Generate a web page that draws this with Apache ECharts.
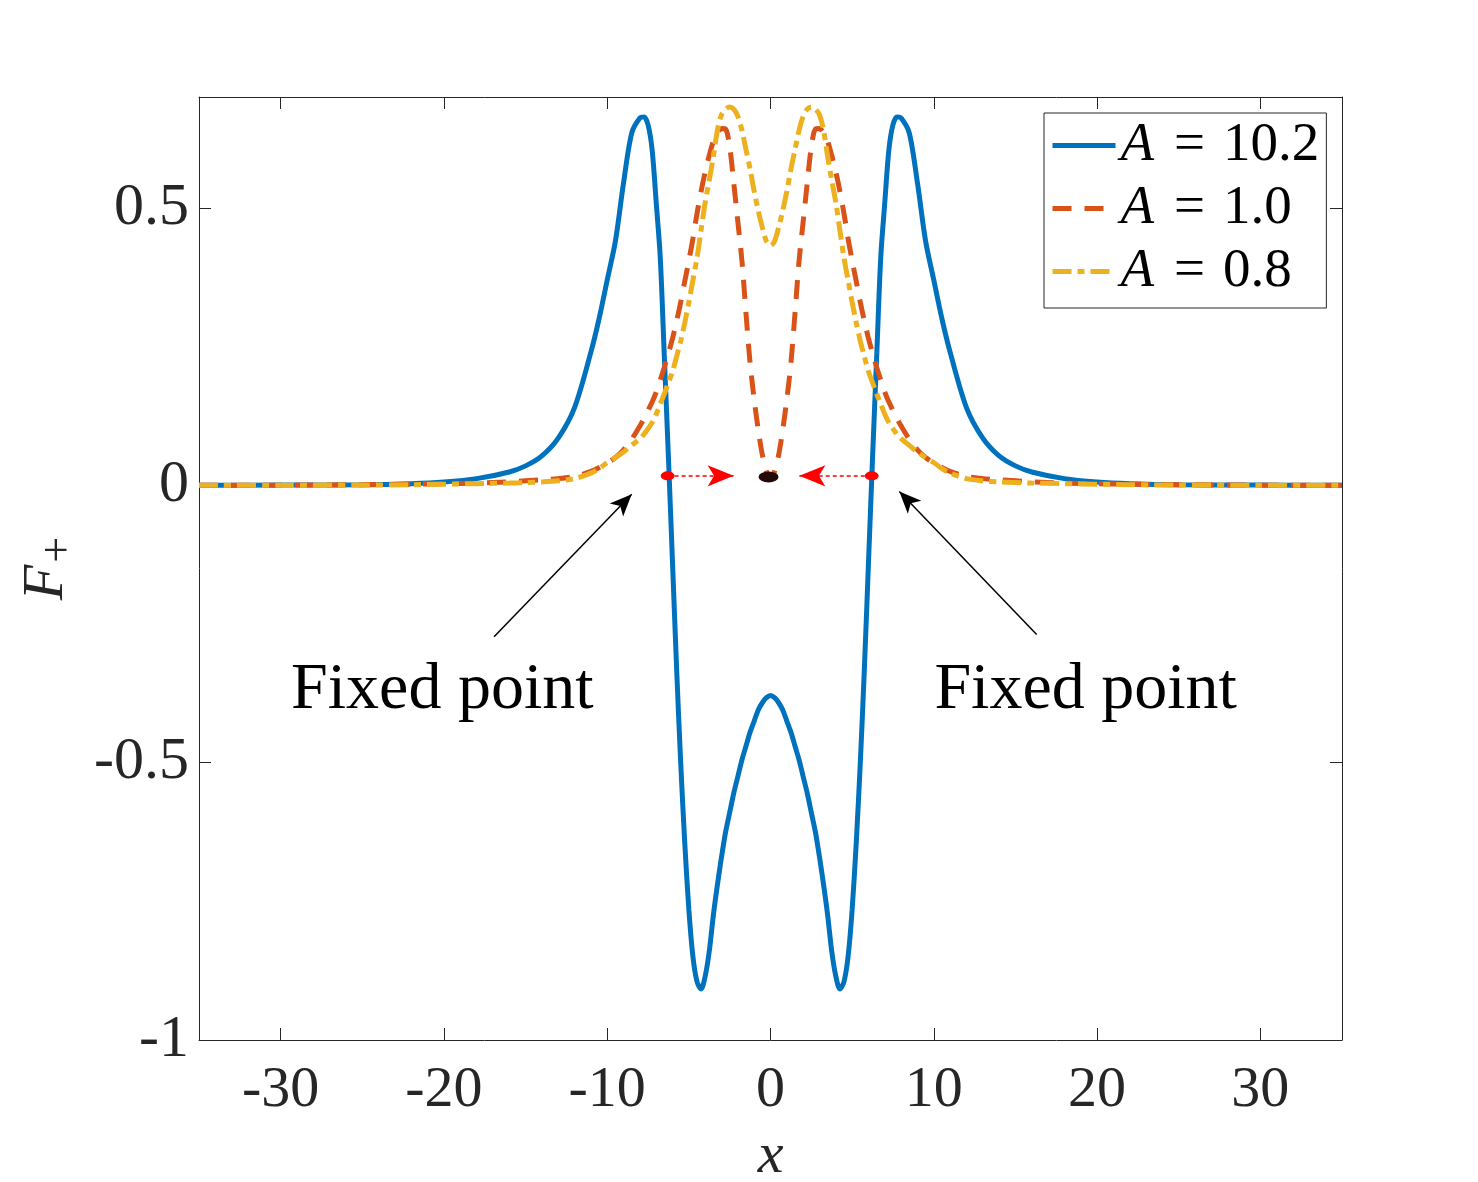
<!DOCTYPE html>
<html>
<head>
<meta charset="utf-8">
<script src="https://cdn.jsdelivr.net/npm/echarts/dist/echarts.min.js"></script>
<style>
  html, body { margin: 0; padding: 0; background: #fff; }
  #chart { width: 1478px; height: 1182px; }
</style>
</head>
<body>
<div id="chart"></div>
<script>
// x samples shared by the three curves
const xs = [-35, -30, -25, -22, -20, -18, -16, -15, -14, -13, -12, -11, -10.5, -10, -9.5, -9, -8.5, -8, -7.75, -7.5,
  -7.25, -7, -6.75, -6.5, -6.25, -6, -5.75, -5.5, -5.25, -5, -4.75, -4.5, -4.25, -4, -3.75, -3.5, -3.25, -3, -2.75, -2.5,
  -2.25, -2, -1.75, -1.5, -1.25, -1, -0.75, -0.5, -0.25, 0,
  0.25, 0.5, 0.75, 1, 1.25, 1.5, 1.75, 2, 2.25, 2.5, 2.75, 3, 3.25, 3.5, 3.75, 4, 4.25, 4.5, 4.75, 5,
  5.25, 5.5, 5.75, 6, 6.25, 6.5, 6.75, 7, 7.25, 7.5, 7.75, 8, 8.5, 9, 9.5, 10, 10.5, 11, 12, 13,
  14, 15, 16, 18, 20, 22, 25, 30, 35];

// A = 10.2
const fBlue = [0, 0.0005, 0.001, 0.003, 0.006, 0.012, 0.024, 0.035, 0.053, 0.085, 0.14, 0.24, 0.3, 0.37, 0.44, 0.545, 0.635, 0.662, 0.664, 0.65,
  0.605, 0.51, 0.41, 0.23, 0.05, -0.14, -0.33, -0.5, -0.645, -0.765, -0.85, -0.895, -0.908, -0.885, -0.84, -0.775, -0.72, -0.67, -0.625, -0.59,
  -0.555, -0.525, -0.495, -0.47, -0.445, -0.425, -0.405, -0.392, -0.383, -0.379,
  -0.383, -0.392, -0.405, -0.425, -0.445, -0.47, -0.495, -0.525, -0.555, -0.59, -0.625, -0.67, -0.72, -0.775, -0.84, -0.885, -0.908, -0.895, -0.85, -0.765,
  -0.645, -0.5, -0.33, -0.14, 0.05, 0.23, 0.41, 0.51, 0.605, 0.65, 0.664, 0.662, 0.635, 0.545, 0.44, 0.37, 0.3, 0.24, 0.14, 0.085,
  0.053, 0.035, 0.024, 0.012, 0.006, 0.003, 0.001, 0.0005, 0];

// A = 1.0
const fOrange = [0, 0.0003, 0.001, 0.002, 0.003, 0.004, 0.006, 0.008, 0.01, 0.012, 0.016, 0.025, 0.032, 0.04, 0.05, 0.064, 0.083, 0.107, 0.12, 0.135,
  0.15, 0.168, 0.19, 0.213, 0.238, 0.265, 0.296, 0.33, 0.368, 0.405, 0.445, 0.49, 0.53, 0.565, 0.595, 0.62, 0.635, 0.643, 0.642, 0.61,
  0.545, 0.475, 0.405, 0.31, 0.22, 0.155, 0.1, 0.055, 0.025, 0.012,
  0.025, 0.055, 0.1, 0.155, 0.22, 0.31, 0.405, 0.475, 0.545, 0.61, 0.642, 0.643, 0.635, 0.62, 0.595, 0.565, 0.53, 0.49, 0.445, 0.405,
  0.368, 0.33, 0.296, 0.265, 0.238, 0.213, 0.19, 0.168, 0.15, 0.135, 0.12, 0.107, 0.083, 0.064, 0.05, 0.04, 0.032, 0.025, 0.016, 0.012,
  0.01, 0.008, 0.006, 0.004, 0.003, 0.002, 0.001, 0.0003, 0];

// A = 0.8
const fYellow = [0, 0.0002, 0.0005, 0.001, 0.002, 0.003, 0.004, 0.005, 0.006, 0.008, 0.012, 0.022, 0.03, 0.041, 0.05, 0.06, 0.072, 0.084, 0.092, 0.102,
  0.113, 0.128, 0.147, 0.165, 0.185, 0.205, 0.232, 0.26, 0.293, 0.33, 0.37, 0.41, 0.46, 0.51, 0.55, 0.593, 0.64, 0.668, 0.678, 0.682,
  0.678, 0.665, 0.64, 0.605, 0.57, 0.53, 0.495, 0.465, 0.44, 0.432,
  0.44, 0.465, 0.495, 0.53, 0.57, 0.605, 0.64, 0.665, 0.678, 0.682, 0.678, 0.668, 0.64, 0.593, 0.55, 0.51, 0.46, 0.41, 0.37, 0.33,
  0.293, 0.26, 0.232, 0.205, 0.185, 0.165, 0.147, 0.128, 0.113, 0.102, 0.092, 0.084, 0.072, 0.06, 0.05, 0.041, 0.03, 0.022, 0.012, 0.008,
  0.006, 0.005, 0.004, 0.003, 0.002, 0.001, 0.0005, 0.0002, 0];

const seriesNames = ['A = 10.2', 'A = 1.0', 'A = 0.8'];
const xTicks = [-30, -20, -10, 0, 10, 20, 30];
const yTicks = [-1, -0.5, 0, 0.5];

// annotations (data coordinates)
const fixedPts = [[-6.3, 0.017], [6.2, 0.017]];
const arrowTips = [[-2.26, 0.017], [1.77, 0.017]];
const centerPt = [[-0.12, 0.015]];
const pointerTails = [[-16.93, -0.273], [16.3, -0.269]];
const pointerTips = [[-8.5, -0.016], [7.89, -0.011]];
const textPos = [[-20.1, -0.37], [19.3, -0.37]];

const FONT = 'Liberation Serif';
const AXIS_COLOR = '#262626';

const chart = echarts.init(document.getElementById('chart'));

const pair = (ys) => xs.map((x, i) => [x, ys[i]]);

const axisCommon = {
  type: 'value',
  splitLine: { show: false },
  axisLine: { show: true, onZero: false, lineStyle: { color: AXIS_COLOR, width: 1 } },
};

const option = {
  animation: false,
  backgroundColor: '#fff',
  grid: { left: 199, top: 97, width: 1143, height: 943, containLabel: false, outerBoundsMode: 'none' },
  legend: {
    data: seriesNames,
    orient: 'vertical',
    left: 1044,
    top: 113,
    padding: [5, 7, 9, 6],
    itemGap: 8,
    itemWidth: 63,
    itemHeight: 14,
    borderColor: AXIS_COLOR,
    borderWidth: 1,
    borderRadius: 0,
    backgroundColor: '#fff',
    itemStyle: { opacity: 0 },
    lineStyle: { width: 'inherit' },
    formatter: (name) => '{i|A}{e|=}{n|' + name.split('= ')[1] + '}',
    textStyle: {
      rich: {
        i: { fontFamily: FONT, fontStyle: 'italic', fontSize: 55, color: '#000', lineHeight: 50 },
        e: { fontFamily: FONT, fontSize: 55, color: '#000', lineHeight: 50, padding: [0, 18, 0, 20] },
        n: { fontFamily: FONT, fontSize: 55, color: '#000', lineHeight: 50 },
      },
    },
  },
  xAxis: [
    Object.assign({}, axisCommon, {
      min: -35, max: 35, position: 'bottom',
      axisTick: { inside: true, length: 12, customValues: xTicks, lineStyle: { color: AXIS_COLOR } },
      axisLabel: { customValues: xTicks, fontFamily: FONT, fontSize: 58, color: AXIS_COLOR, margin: 22 },
      name: 'x', nameLocation: 'middle', nameGap: 88,
      nameTextStyle: { fontFamily: FONT, fontStyle: 'italic', fontSize: 58, color: AXIS_COLOR },
    }),
    Object.assign({}, axisCommon, {
      min: -35, max: 35, position: 'top',
      axisTick: { inside: true, length: 12, customValues: xTicks, lineStyle: { color: AXIS_COLOR } },
      axisLabel: { show: false },
    }),
  ],
  yAxis: [
    Object.assign({}, axisCommon, {
      min: -1, max: 0.7, position: 'left',
      axisTick: { inside: true, length: 12, customValues: yTicks, lineStyle: { color: AXIS_COLOR } },
      axisLabel: { customValues: yTicks, fontFamily: FONT, fontSize: 60, color: AXIS_COLOR, margin: 10 },
      name: '{f|F}{s|+}', nameLocation: 'middle', nameGap: 117, nameRotate: 90,
      nameTextStyle: {
        rich: {
          f: { fontFamily: FONT, fontStyle: 'italic', fontSize: 58, color: AXIS_COLOR },
          s: { fontFamily: FONT, fontSize: 46, color: AXIS_COLOR, padding: [24, 0, 0, 2] },
        },
      },
    }),
    Object.assign({}, axisCommon, {
      min: -1, max: 0.7, position: 'right',
      axisTick: { inside: true, length: 12, customValues: yTicks, lineStyle: { color: AXIS_COLOR } },
      axisLabel: { show: false },
    }),
  ],
  series: [
    {
      name: seriesNames[0], type: 'line', data: pair(fBlue), symbol: 'none', smooth: 0.3,
      lineStyle: { color: '#0072BD', width: 5 }, itemStyle: { color: '#0072BD' }, z: 2,
    },
    {
      name: seriesNames[1], type: 'line', data: pair(fOrange), symbol: 'none', smooth: 0.3,
      lineStyle: { color: '#D95319', width: 5, type: [19, 13] }, itemStyle: { color: '#D95319' }, z: 3,
    },
    {
      name: seriesNames[2], type: 'line', data: pair(fYellow), symbol: 'none', smooth: 0.3,
      lineStyle: { color: '#EDB120', width: 5, type: [19, 6, 7, 6] }, itemStyle: { color: '#EDB120' }, z: 4,
    },
    {
      name: 'fixed', type: 'scatter', data: fixedPts, symbol: 'circle', symbolSize: [14, 9],
      itemStyle: { color: '#ff0000', opacity: 1 }, z: 6, silent: true,
      markLine: {
        silent: true, symbol: ['none', 'arrow'], symbolSize: [16, 26], label: { show: false },
        lineStyle: { color: '#ff0000', width: 1.5, type: [4, 3], opacity: 1 },
        data: fixedPts.map((p, i) => [{ coord: p }, { coord: arrowTips[i] }]),
      },
    },
    {
      name: 'center', type: 'scatter', data: centerPt, symbol: 'circle', symbolSize: [20, 11],
      itemStyle: { color: '#230808', opacity: 1 }, z: 6, silent: true,
      markLine: {
        silent: true, symbol: ['none', 'arrow'], symbolSize: [14, 22], label: { show: false },
        lineStyle: { color: '#000', width: 1.5, type: 'solid', opacity: 1 },
        data: pointerTails.map((p, i) => [{ coord: p }, { coord: pointerTips[i] }]),
      },
    },
    {
      name: 'text', type: 'scatter', data: textPos, symbol: 'circle', symbolSize: 1,
      itemStyle: { color: 'transparent', opacity: 1 }, z: 7, silent: true,
      label: {
        show: true, position: 'inside', formatter: 'Fixed point',
        fontFamily: FONT, fontSize: 66, color: '#000',
      },
    },
  ],
};

chart.setOption(option);
</script>
</body>
</html>
